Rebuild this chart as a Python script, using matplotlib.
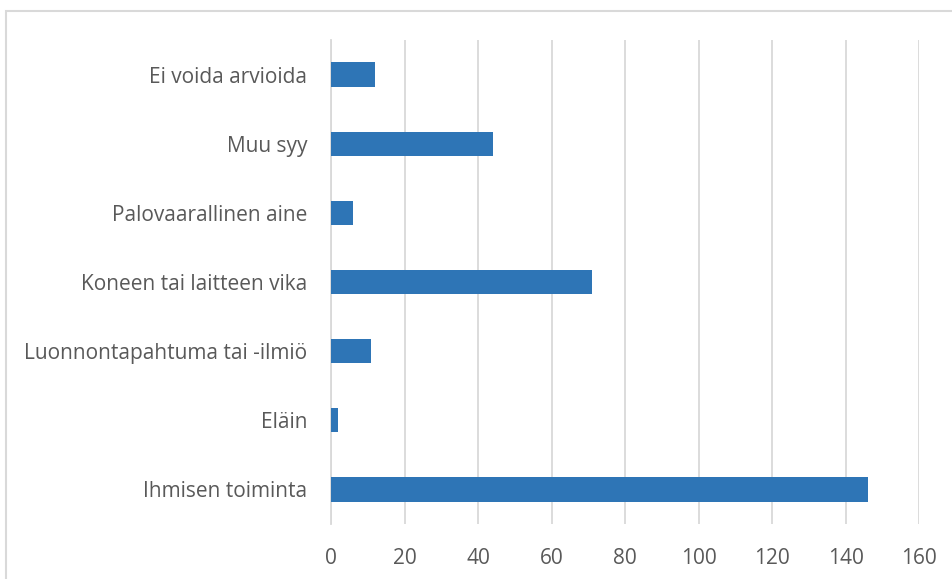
#!/usr/bin/env python3
import matplotlib
matplotlib.use("Agg")
import matplotlib.pyplot as plt
from matplotlib.patches import Rectangle

# data, bottom to top as drawn
categories = ["Ihmisen toiminta", "Eläin", "Luonnontapahtuma tai -ilmiö",
              "Koneen tai laitteen vika", "Palovaarallinen aine",
              "Muu syy", "Ei voida arvioida"]
values = [146, 2, 11, 71, 6, 44, 12]
xticks = [0, 20, 40, 60, 80, 100, 120, 140, 160]

plt.rcParams['font.family'] = ['Open Sans', 'DejaVu Sans']
text_col = "#595959"
grid_col = "#d9d9d9"

fig = plt.figure(figsize=(9.52, 5.79), dpi=100)
ax = fig.add_axes([331/952, 1-524/579, (919-331)/952, (524-40)/579])

ypos = range(len(categories))
ax.barh(ypos, values, height=0.35, color="#2E75B6", zorder=3)

ax.set_xlim(0, 160)
ax.set_ylim(-0.5, len(categories)-0.5)
ax.set_xticks(xticks)
ax.set_xticklabels([str(t) for t in xticks])
ax.set_yticks(list(ypos))
ax.set_yticklabels(categories)
ax.tick_params(axis='both', length=0, colors=text_col, labelsize=15)
ax.tick_params(axis='x', pad=17)
ax.tick_params(axis='y', pad=17)

ax.xaxis.grid(True, color=grid_col, linewidth=1.3, zorder=0)
for s in ["top", "right", "bottom"]:
    ax.spines[s].set_visible(False)
ax.spines["left"].set_color(grid_col)
ax.spines["left"].set_linewidth(1.3)

# chart area border (cropped on right and bottom)
fig.patches.append(Rectangle((6/952, -0.1), 1.1, 1.1 - 11/579, transform=fig.transFigure,
                             fill=False, edgecolor=grid_col, linewidth=1.5))

fig.savefig("out.png", dpi=100)
